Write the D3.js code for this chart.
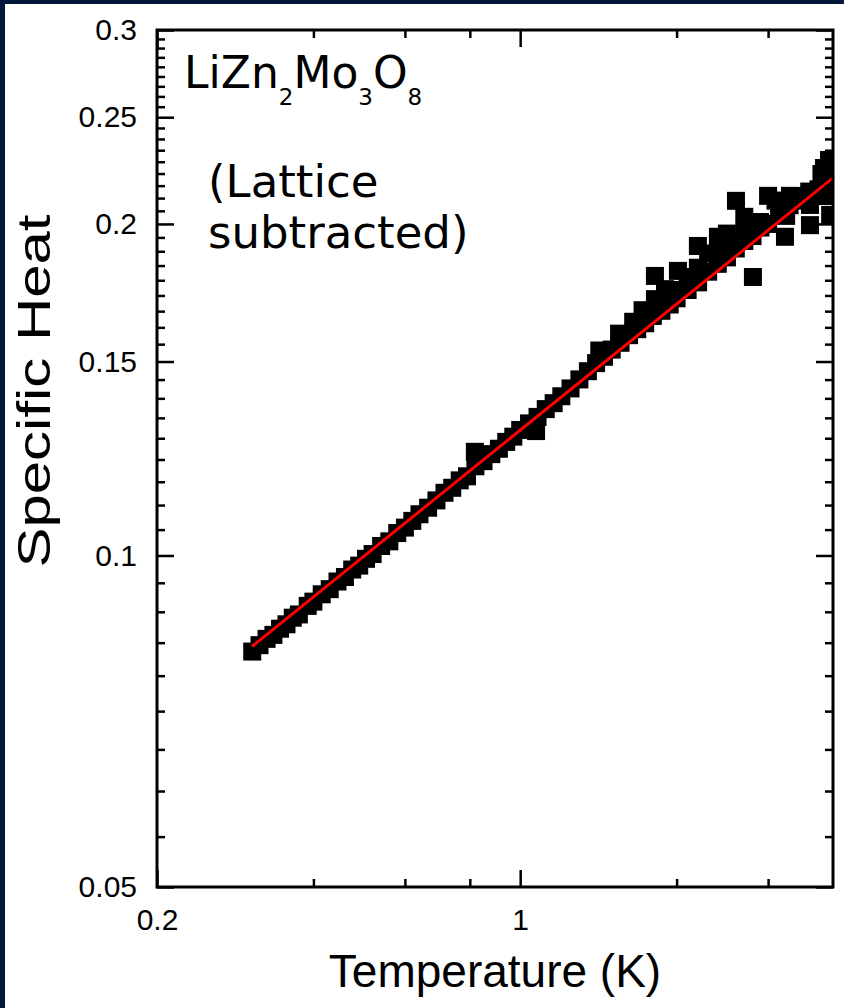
<!DOCTYPE html>
<html>
<head>
<meta charset="utf-8">
<script src="https://cdn.jsdelivr.net/npm/d3@7"></script>
<style>
body { margin: 0; background: #021739; }
svg { display: block; }
</style>
</head>
<body>
<script>
// LiZn2Mo3O8 specific heat, lattice subtracted
var tempK = [0.305, 0.315, 0.325, 0.335, 0.345, 0.355, 0.365, 0.375, 0.39, 0.40,
    0.415, 0.43, 0.445, 0.46, 0.475, 0.49, 0.505, 0.52, 0.54, 0.56,
    0.58, 0.60, 0.62, 0.64, 0.665, 0.69, 0.715, 0.74, 0.765, 0.79,
    0.818, 0.82, 0.85, 0.88, 0.91, 0.94, 0.97, 1.00, 1.04, 1.073,
    1.08, 1.12, 1.16, 1.20, 1.25, 1.30, 1.35, 1.40, 1.42, 1.45,
    1.50, 1.55, 1.56, 1.62, 1.65, 1.68, 1.72, 1.74, 1.80, 1.817,
    1.817, 1.87, 1.90, 1.94, 2.00, 2.012, 2.012, 2.10, 2.10, 2.198,
    2.198, 2.20, 2.30, 2.30, 2.40, 2.402, 2.402, 2.50, 2.50, 2.60,
    2.602, 2.70, 2.70, 2.708, 2.80, 2.805, 2.805, 2.894, 2.90, 3.00,
    3.00, 3.10, 3.15, 3.233, 3.25, 3.30, 3.306, 3.45, 3.45, 3.60,
    3.612, 3.612, 3.75, 3.80, 3.843, 3.85, 3.90, 3.93, 3.95, 3.95];
var specHeat = [0.0818, 0.0829, 0.0840, 0.0847, 0.0858, 0.0866, 0.0878, 0.0884, 0.0900, 0.0908,
    0.0922, 0.0932, 0.0947, 0.0956, 0.0971, 0.0979, 0.0993, 0.1003, 0.1020, 0.1030,
    0.1048, 0.1060, 0.1075, 0.1090, 0.1105, 0.1122, 0.1140, 0.1152, 0.1170, 0.1180,
    0.1242, 0.1205, 0.1218, 0.1236, 0.1250, 0.1268, 0.1282, 0.1300, 0.1318, 0.1297,
    0.1336, 0.1358, 0.1375, 0.1395, 0.1418, 0.1445, 0.1470, 0.1495, 0.1535, 0.1515,
    0.1538, 0.1590, 0.1560, 0.1585, 0.1630, 0.1605, 0.1670, 0.1625, 0.1650, 0.1794,
    0.1709, 0.1668, 0.1745, 0.1690, 0.1712, 0.1813, 0.1742, 0.1742, 0.1790, 0.1910,
    0.1825, 0.1770, 0.1810, 0.1880, 0.1840, 0.1947, 0.1887, 0.1865, 0.1960, 0.1900,
    0.2099, 0.1930, 0.2030, 0.1975, 0.1950, 0.1790, 0.2000, 0.2008, 0.1985, 0.2121,
    0.2000, 0.2100, 0.2040, 0.1947, 0.2034, 0.2080, 0.2121, 0.2100, 0.2120, 0.2140,
    0.2081, 0.1995, 0.2150, 0.2220, 0.2248, 0.2120, 0.2170, 0.2286, 0.2038, 0.2200];

// power-law fit, straight on log-log: its two ends
var fitT = [0.306, 4.0];
var fitC = [0.0828, 0.2202];

var xMajorTicks = [0.2, 1];
var xTickLabels = ['0.2', '1'];
var xMinorTicks = [0.4, 0.6, 0.8, 2, 3];
var yMajorTicks = [0.05, 0.1, 0.15, 0.2, 0.25, 0.3];
var yTickLabels = ['0.05', '0.1', '0.15', '0.2', '0.25', '0.3'];

drawChart();

function drawChart(){
    var width = 844, height = 1008;
    var pl = 157, pr = 833, pt = 30, pb = 887;
    var axisFont = 'Liberation Sans, Arial, sans-serif';
    var noteFont = 'DejaVu Sans, Verdana, sans-serif';

    var svg = d3.select('body').append('svg')
        .attr('width', width)
        .attr('height', height);

    svg.append('rect').attr('width', width).attr('height', height).attr('fill', '#021739');
    svg.append('rect').attr('x', 5).attr('y', 4).attr('width', width - 5).attr('height', height - 4).attr('fill', '#fff');

    var x = d3.scaleLog().domain([0.2, 4]).range([pl, pr]);
    var y = d3.scaleLog().domain([0.05, 0.3]).range([pb, pt]);

    svg.append('clipPath').attr('id', 'plotclip')
        .append('rect')
        .attr('x', pl).attr('y', pt)
        .attr('width', pr - pl).attr('height', pb - pt);

    var pts = tempK.map(function(t, i){ return {t: t, c: specHeat[i]}; });
    var sq = 18;
    svg.append('g').attr('clip-path', 'url(#plotclip)')
        .selectAll('rect')
        .data(pts)
        .enter()
        .append('rect')
        .attr('x', d => x(d.t) - sq/2)
        .attr('y', d => y(d.c) - sq/2)
        .attr('width', sq)
        .attr('height', sq)
        .attr('fill', '#000');

    var fit = fitT.map(function(t, i){ return [t, fitC[i]]; });
    svg.append('path')
        .datum(fit)
        .attr('d', d3.line().x(d => x(d[0])).y(d => y(d[1])))
        .attr('stroke', '#ff0000')
        .attr('stroke-width', 3)
        .attr('stroke-linecap', 'round')
        .attr('fill', 'none');

    // minor y ticks: 8 between each pair of majors
    var yMinorTicks = [];
    for (var i = 0; i < yMajorTicks.length - 1; i++) {
        for (var k = 1; k <= 8; k++) yMinorTicks.push(yMajorTicks[i] + k * 0.05 / 9);
    }

    function addAxis(gen, tx, ty) {
        var g = svg.append('g')
            .attr('transform', 'translate(' + tx + ',' + ty + ')')
            .call(gen)
            .attr('font-family', axisFont)
            .attr('font-size', 30);
        g.select('.domain').remove();
        g.selectAll('line').attr('stroke', '#000').attr('stroke-width', 2.5);
        g.selectAll('text').attr('fill', '#000');
        return g;
    }

    // bottom
    addAxis(d3.axisBottom(x).tickValues(xMajorTicks).tickSizeInner(-17).tickSizeOuter(0)
        .tickPadding(22).tickFormat((d, i) => xTickLabels[i]), 0, pb);
    addAxis(d3.axisBottom(x).tickValues(xMinorTicks).tickSizeInner(-8).tickSizeOuter(0)
        .tickFormat(''), 0, pb);
    // top
    addAxis(d3.axisTop(x).tickValues(xMajorTicks).tickSizeInner(-17).tickSizeOuter(0)
        .tickFormat(''), 0, pt);
    addAxis(d3.axisTop(x).tickValues(xMinorTicks).tickSizeInner(-8).tickSizeOuter(0)
        .tickFormat(''), 0, pt);
    // left
    addAxis(d3.axisLeft(y).tickValues(yMajorTicks).tickSizeInner(-17).tickSizeOuter(0)
        .tickPadding(20).tickFormat((d, i) => yTickLabels[i]), pl, 0);
    addAxis(d3.axisLeft(y).tickValues(yMinorTicks).tickSizeInner(-8).tickSizeOuter(0)
        .tickFormat(''), pl, 0);
    // right
    addAxis(d3.axisRight(y).tickValues(yMajorTicks).tickSizeInner(-17).tickSizeOuter(0)
        .tickFormat(''), pr, 0);
    addAxis(d3.axisRight(y).tickValues(yMinorTicks).tickSizeInner(-8).tickSizeOuter(0)
        .tickFormat(''), pr, 0);

    svg.append('rect')
        .attr('x', pl).attr('y', pt)
        .attr('width', pr - pl).attr('height', pb - pt)
        .attr('fill', 'none')
        .attr('stroke', '#000')
        .attr('stroke-width', 3);

    // axis titles
    svg.append('text')
        .attr('x', (pl + pr) / 2)
        .attr('y', 987)
        .attr('text-anchor', 'middle')
        .style('font-family', axisFont)
        .style('font-size', '46px')
        .text('Temperature (K)');

    svg.append('text')
        .attr('transform', 'translate(50,391) rotate(-90)')
        .attr('text-anchor', 'middle')
        .attr('textLength', 353)
        .attr('lengthAdjust', 'spacingAndGlyphs')
        .style('font-family', axisFont)
        .style('font-size', '46px')
        .text('Specific Heat');

    // annotations
    var note = svg.append('text')
        .attr('x', 184)
        .attr('y', 88)
        .style('font-family', noteFont)
        .style('font-size', '44px');
    var parts = [['LiZn', 0], ['2', 1], ['Mo', 0], ['3', 1], ['O', 0], ['8', 1]];
    parts.forEach(function(p){
        note.append('tspan')
            .attr('y', p[1] ? 105 : 88)
            .style('font-size', p[1] ? '23px' : '44px')
            .text(p[0]);
    });

    svg.append('text')
        .attr('x', 208).attr('y', 197)
        .style('font-family', noteFont)
        .style('font-size', '45px')
        .text('(Lattice');
    svg.append('text')
        .attr('x', 208).attr('y', 248)
        .style('font-family', noteFont)
        .style('font-size', '45px')
        .text('subtracted)');
}
</script>
</body>
</html>
